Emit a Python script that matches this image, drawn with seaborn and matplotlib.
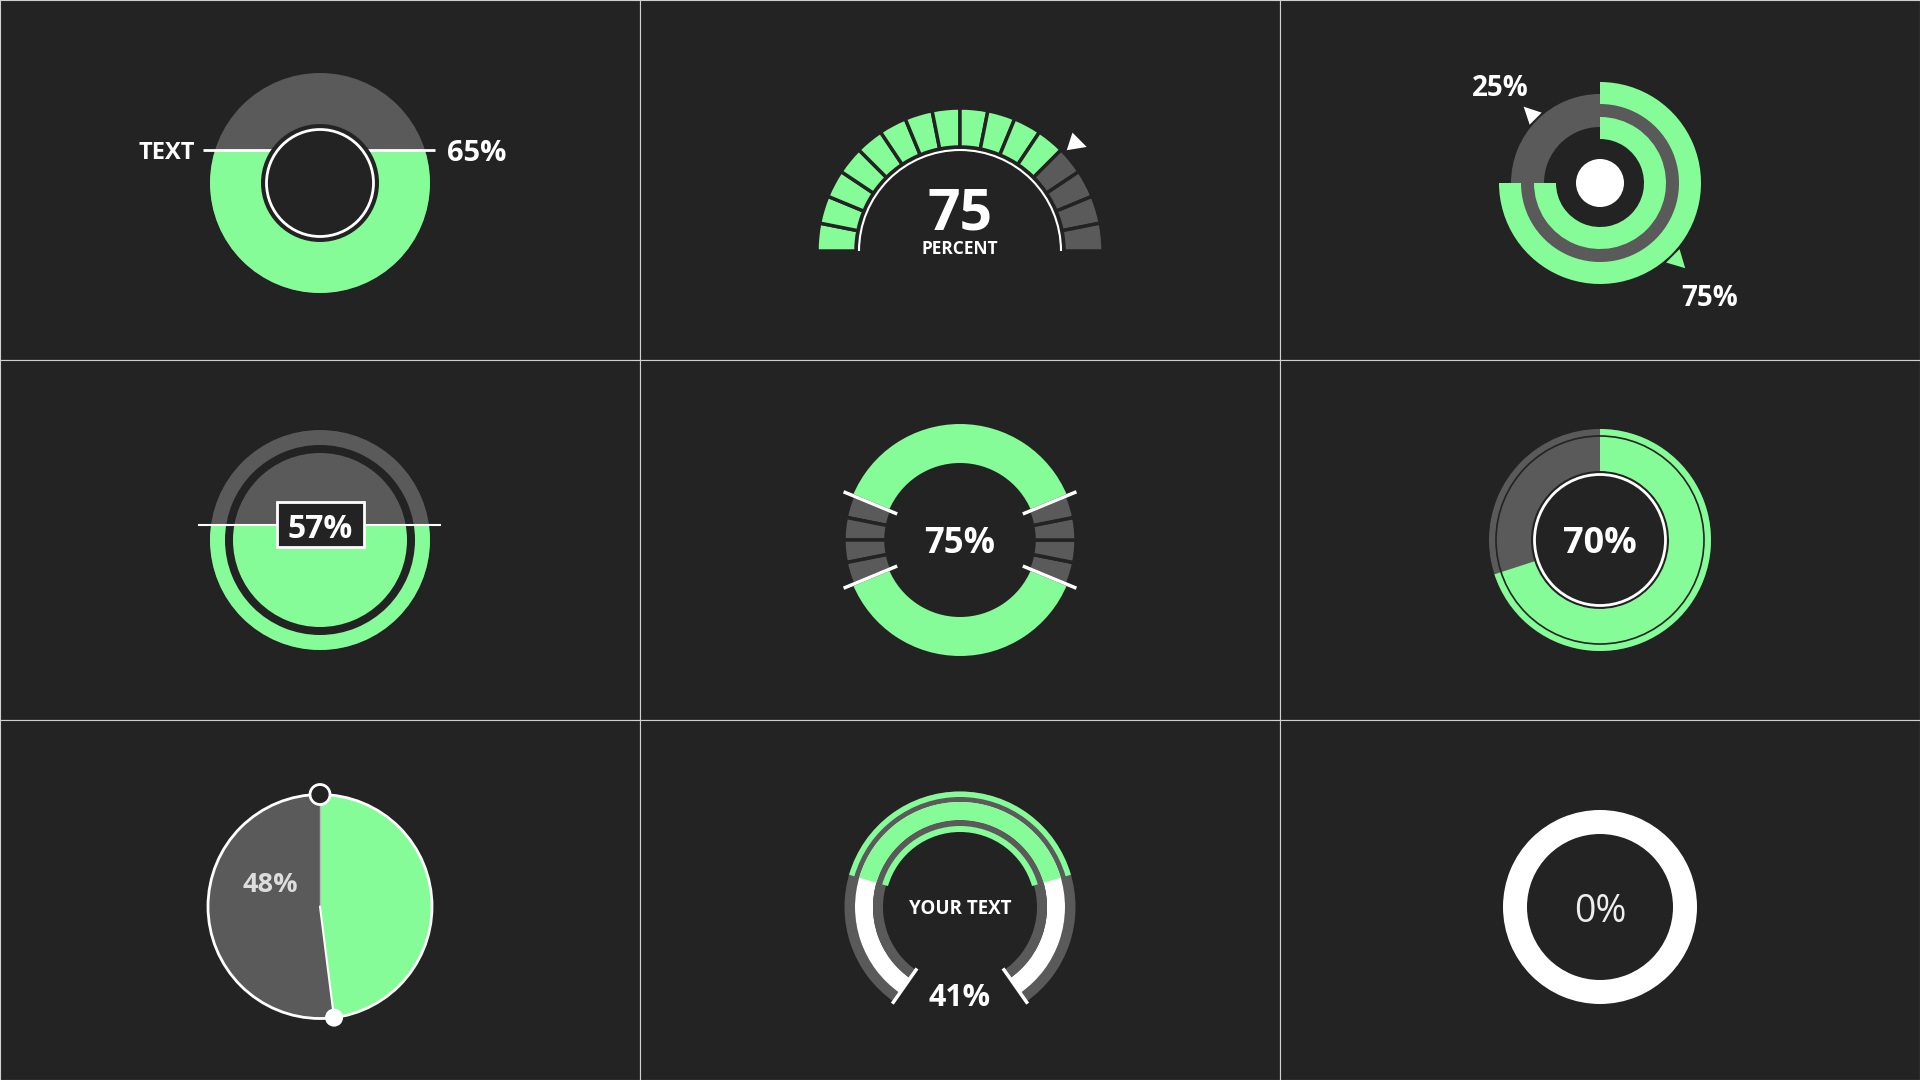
import numpy as np
import matplotlib
matplotlib.use("Agg")
import matplotlib.pyplot as plt
from matplotlib.patches import Wedge, Circle, Rectangle, Polygon, Arc
import seaborn as sns

# ---------------- data ----------------
donut_pct = 65            # panel 1 (liquid level)
donut_label = "TEXT"
gauge_pct = 75            # panel 2
gauge_segments = 16
gauge_label = "PERCENT"
rings_pct = [75, 25]      # panel 3 (filled, remaining)
fill_pct = 57             # panel 4
seg_donut_pct = 75        # panel 5
side_segments = 4
ring_pct = 70             # panel 6
pie_pct = 48              # panel 7
arc_pct = 41              # panel 8
arc_label = "YOUR TEXT"
empty_pct = 0             # panel 9

BG = "#232323"
GREEN = "#85FC97"
GRAY = "#5a5a5a"
WHITE = "#ffffff"
LINE = "#d0d0d0"

sns.set_theme(style="dark", rc={"axes.facecolor": BG, "figure.facecolor": BG})
plt.rcParams["font.family"] = ["Open Sans", "DejaVu Sans"]

fig = plt.figure(figsize=(19.2, 10.8), dpi=100)
axes = {}
for r in range(3):
    for c in range(3):
        ax = fig.add_axes([c / 3, 1 - (r + 1) / 3, 1 / 3, 1 / 3])
        ax.set_xlim(0, 640)
        ax.set_ylim(0, 360)
        ax.set_xticks([])
        ax.set_yticks([])
        ax.set_facecolor(BG)
        for s in ax.spines.values():
            s.set_visible(True)
            s.set_color(LINE)
            s.set_linewidth(0.8)
        axes[(r, c)] = ax


def wedge(ax, c, r, t1, t2, color, width=None, ec="none", lw=0, z=2):
    w = Wedge(c, r, t1, t2, width=width, facecolor=color, edgecolor=ec, linewidth=lw, zorder=z)
    ax.add_patch(w)
    return w


def circle(ax, c, r, fc, ec="none", lw=0, z=2):
    p = Circle(c, r, facecolor=fc, edgecolor=ec, linewidth=lw, zorder=z)
    ax.add_patch(p)
    return p


def triangle(ax, c, r_base, ang, direction, height, base, color, z=4):
    a = np.deg2rad(ang)
    d = np.deg2rad(direction)
    bm = np.array([c[0] + r_base * np.cos(a), c[1] + r_base * np.sin(a)])
    dv = np.array([np.cos(d), np.sin(d)])
    pv = np.array([-dv[1], dv[0]])
    pts = [bm + height * dv, bm + base / 2 * pv, bm - base / 2 * pv]
    ax.add_patch(Polygon(pts, closed=True, facecolor=color, edgecolor="none", zorder=z))


def txt(ax, x, y, s, size, weight="bold", color=WHITE, ha="center", va="center_baseline"):
    ax.text(x, y, s, fontsize=size, fontweight=weight, color=color, ha=ha, va=va, zorder=10)


# ---------- Panel 1: liquid donut ----------
ax = axes[(0, 0)]
c = (320, 177)
R = 110
level = c[1] + (donut_pct / 100 * 2 * R - R)
circle(ax, c, R, GRAY)
g = circle(ax, c, R, GREEN, z=3)
g.set_clip_path(Rectangle((c[0] - 300, c[1] - 300), 600, level - (c[1] - 300), transform=ax.transData))
ax.plot([203, 435], [level, level], color=WHITE, lw=2, zorder=4, solid_capstyle="butt")
circle(ax, c, 59, BG, z=5)
circle(ax, c, 53.5, "none", ec=WHITE, lw=2, z=6)
txt(ax, 195, level, donut_label, 17, ha="right")
txt(ax, 447, level, f"{donut_pct}%", 21, ha="left")

# ---------- Panel 2: segmented gauge ----------
ax = axes[(0, 1)]
c = (320, 109)
step = 180 / gauge_segments
n_green = int(round(gauge_pct / 100 * gauge_segments))
for i in range(gauge_segments):
    t2 = 180 - i * step
    t1 = t2 - step
    wedge(ax, c, 143, t1, t2, GREEN if i < n_green else GRAY, width=39, ec=BG, lw=2.5)
ax.add_patch(Arc(c, 202, 202, theta1=0, theta2=180, color=WHITE, lw=1.5, zorder=3))
ang = 180 - 180 * gauge_pct / 100
triangle(ax, c, 155, ang, ang - 63, 18, 18.5, WHITE)
txt(ax, 320, 131, f"{gauge_pct}", 41, va="baseline")
txt(ax, 320, 106, gauge_label, 12.5, va="baseline")

# ---------- Panel 3: concentric arcs ----------
ax = axes[(0, 2)]
c = (320, 177)
span = 360 * rings_pct[0] / 100
t1 = 90 - span
wedge(ax, c, 89, 0, 360, GRAY, width=33)
wedge(ax, c, 101, t1, 90, GREEN, width=22, z=3)
wedge(ax, c, 66, t1, 90, GREEN, width=22, z=3)
circle(ax, c, 24, WHITE, z=4)
a_rem = 90 + 360 * rings_pct[1] / 100 / 2
triangle(ax, c, 91, a_rem, a_rem, 17, 17, WHITE)
a_fill = 90 - span / 2
triangle(ax, c, 103, a_fill, a_fill, 17.5, 19, GREEN)
txt(ax, 220, 275, f"{rings_pct[1]}%", 20)
txt(ax, 430, 65, f"{rings_pct[0]}%", 20)

# ---------- Panel 4: filled circle with box ----------
ax = axes[(1, 0)]
c = (320, 180)
R = 110
level = c[1] + (fill_pct / 100 * 2 * R - R)
circle(ax, c, R, GRAY)
g = circle(ax, c, R, GREEN, z=3)
g.set_clip_path(Rectangle((c[0] - 300, c[1] - 300), 600, level - (c[1] - 300), transform=ax.transData))
wedge(ax, c, 95, 0, 360, BG, width=8, z=4)
ax.plot([197.5, 441], [level, level], color=WHITE, lw=1.5, zorder=5, solid_capstyle="butt")
ax.add_patch(Rectangle((276.5, level - 22), 87, 45, facecolor=BG, edgecolor=WHITE, lw=2, zorder=6))
txt(ax, 320, level - 1, f"{fill_pct}%", 23)

# ---------- Panel 5: donut with segmented sides ----------
ax = axes[(1, 1)]
c = (320, 180)
half_gap = 360 * (100 - seg_donut_pct) / 100 / 4
wedge(ax, c, 116, half_gap, 180 - half_gap, GREEN, width=39)
wedge(ax, c, 116, 180 + half_gap, 360 - half_gap, GREEN, width=39)
seg = 2 * half_gap / side_segments
for base in (180 - half_gap, -half_gap):
    for i in range(side_segments):
        wedge(ax, c, 116, base + i * seg, base + (i + 1) * seg, GRAY, width=42, ec=BG, lw=2.5)
for a in (half_gap, 180 - half_gap, 180 + half_gap, -half_gap):
    ar = np.deg2rad(a)
    ax.plot([c[0] + 68 * np.cos(ar), c[0] + 126 * np.cos(ar)],
            [c[1] + 68 * np.sin(ar), c[1] + 126 * np.sin(ar)],
            color=WHITE, lw=2.5, zorder=5, solid_capstyle="butt")
txt(ax, 320, 180, f"{seg_donut_pct}%", 25)

# ---------- Panel 6: progress ring ----------
ax = axes[(1, 2)]
c = (320, 180)
span = 360 * ring_pct / 100
wedge(ax, c, 111, 0, 360, GRAY, width=42)
wedge(ax, c, 111, 90 - span, 90, GREEN, width=42, z=3)
ax.add_patch(Circle(c, 104, facecolor="none", edgecolor=BG, lw=1.2, zorder=4))
circle(ax, c, 65.5, "none", ec=WHITE, lw=2, z=5)
txt(ax, 320, 180, f"{ring_pct}%", 26)

# ---------- Panel 7: pie ----------
ax = axes[(2, 0)]
c = (320, 173.5)
R = 112
span = 360 * pie_pct / 100
end = 90 - span
wedge(ax, c, R, end, 90, GREEN)
wedge(ax, c, R, 90, 360 + end, GRAY)
circle(ax, c, R, "none", ec=WHITE, lw=2, z=4)
ax.plot([c[0], c[0]], [c[1], c[1] + R], color="#bbbbbb", lw=1, zorder=4)
er = np.deg2rad(end)
ex, ey = c[0] + R * np.cos(er), c[1] + R * np.sin(er)
ax.plot([c[0], ex], [c[1], ey], color=WHITE, lw=1.5, zorder=4)
circle(ax, (c[0], c[1] + R), 10, BG, ec=WHITE, lw=2, z=6)
circle(ax, (ex, ey), 9, WHITE, z=6)
txt(ax, 270, 197.5, f"{pie_pct}%", 19.5, color="#dddddd")

# ---------- Panel 8: open arc ----------
ax = axes[(2, 1)]
c = (320, 173)
a0, a1 = -55, 235
wedge(ax, c, 115.5, a0, a1, GRAY, width=10.5)
wedge(ax, c, 105, a0, a1, WHITE, width=18)
wedge(ax, c, 87, a0, a1, GRAY, width=10)
gspan = 360 * arc_pct / 100
g1, g2 = 90 - gspan / 2, 90 + gspan / 2
wedge(ax, c, 115.5, g1, g2, GREEN, width=5.5, z=3)
wedge(ax, c, 105, g1, g2, GREEN, width=18, z=3)
wedge(ax, c, 81, g1, g2, GREEN, width=6, z=3)
for a in (a0, a1):
    ar = np.deg2rad(a)
    ax.plot([c[0] + 75 * np.cos(ar), c[0] + 118 * np.cos(ar)],
            [c[1] + 75 * np.sin(ar), c[1] + 118 * np.sin(ar)],
            color=WHITE, lw=2.5, zorder=5, solid_capstyle="butt")
txt(ax, 320, 173, arc_label, 13.5)
txt(ax, 320, 85, f"{arc_pct}%", 22)

# ---------- Panel 9: empty ring ----------
ax = axes[(2, 2)]
c = (320, 173)
wedge(ax, c, 97, 0, 360, WHITE, width=24)
if empty_pct > 0:
    wedge(ax, c, 97, 90 - 360 * empty_pct / 100, 90, GREEN, width=24, z=3)
txt(ax, 320, 173, f"{empty_pct}%", 27, weight="normal", color="#eeeeee")

fig.savefig("out.png", dpi=100, facecolor=BG)
